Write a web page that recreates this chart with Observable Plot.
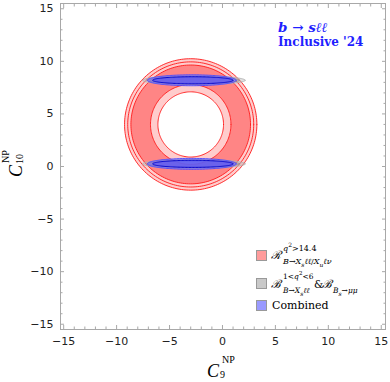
<!DOCTYPE html>
<html>
<head>
<meta charset="utf-8">
<script src="https://cdn.jsdelivr.net/npm/d3@7"></script>
<script src="https://cdn.jsdelivr.net/npm/@observablehq/plot@0.6"></script>
<style>
  body { margin: 0; background: #fff; }
  #wrap { position: relative; width: 390px; height: 382px; overflow: hidden; }
  #wrap svg { position: absolute; left: 0; top: 0; }
  .t { position: absolute; white-space: nowrap; line-height: 1; }
  .serif { font-family: "DejaVu Serif", serif; }
  .lt { font-family: "Liberation Serif", "DejaVu Serif", serif; }
</style>
</head>
<body>
<div id="wrap"></div>
<script>
// ---------- data ----------
const xDomain = [-15.3, 15.4];
const yDomain = [-15.5, 15.5];
const majorTicks = [-15, -10, -5, 0, 5, 10, 15];
const minorTicks = [-14, -13, -12, -11, -9, -8, -7, -6, -4, -3, -2, -1, 1, 2, 3, 4, 6, 7, 8, 9, 11, 12, 13, 14];

// R ratio (q^2 > 14.4): annulus in the (C9, C10) plane
const ringCx = -3.0;
const ringCy = 4.0;
const ringRadii = [6.25, 5.95, 5.65, 3.8, 3.1];
const ringFills = ["#ffcccc", "#ffcccc", "#ff8585", "#ffcccc", "#ffffff"];

// Branching ratio (1<q^2<6) & Bs->mumu: elongated ellipses
const grayCx = [-2.7, -2.75, -2.7, -2.75];
const grayCy = [8.2, 8.2, 0.25, 0.25];
const grayA = [4.85, 4.35, 4.85, 4.35];
const grayB = [0.42, 0.28, 0.42, 0.28];

// Combined fit
const blueCx = [-2.9, -2.8, -2.9, -2.8];
const blueCy = [8.2, 8.2, 0.25, 0.25];
const blueA = [4.2, 3.8, 4.2, 3.8];
const blueB = [0.52, 0.34, 0.52, 0.34];

// ---------- shapes from parameters ----------
function ellipse(cx, cy, a, b, id) {
  const pts = [];
  const n = 180;
  for (let i = 0; i <= n; i++) {
    const t = (2 * Math.PI * i) / n;
    pts.push({x: cx + a * Math.cos(t), y: cy + b * Math.sin(t), id});
  }
  return pts;
}

const ringMarks = ringRadii.map((r, i) =>
  Plot.line(ellipse(ringCx, ringCy, r, r, i), {x: "x", y: "y", fill: ringFills[i], stroke: "#ff1a1a", strokeWidth: 0.9})
);

const grayMarks = grayCx.map((cx, i) =>
  Plot.line(ellipse(cx, grayCy[i], grayA[i], grayB[i], i), {
    x: "x", y: "y",
    fill: "#b4b4b4", fillOpacity: 0.4,
    stroke: i % 2 === 0 ? "#b0b0b0" : "#8a8a8a", strokeWidth: 0.9
  })
);

const blueMarks = blueCx.map((cx, i) =>
  Plot.line(ellipse(cx, blueCy[i], blueA[i], blueB[i], i), {
    x: "x", y: "y",
    fill: i % 2 === 0 ? "#6a6aff" : "#3c3cff", fillOpacity: i % 2 === 0 ? 0.6 : 0.45,
    stroke: i % 2 === 0 ? "#4a4aff" : "#0000cc", strokeWidth: 0.9
  })
);

const axisColor = "#a8a8a8";
const tickMarks = [];
for (const anchor of ["bottom", "top"]) {
  tickMarks.push(Plot.axisX(majorTicks, {anchor, tickSize: -4, tickFormat: () => "", label: null, stroke: axisColor}));
  tickMarks.push(Plot.axisX(minorTicks, {anchor, tickSize: -2.5, tickFormat: () => "", label: null, stroke: axisColor}));
}
for (const anchor of ["left", "right"]) {
  tickMarks.push(Plot.axisY(majorTicks, {anchor, tickSize: -4, tickFormat: () => "", label: null, stroke: axisColor}));
  tickMarks.push(Plot.axisY(minorTicks, {anchor, tickSize: -2.5, tickFormat: () => "", label: null, stroke: axisColor}));
}

const chart = Plot.plot({
  width: 390,
  height: 382,
  marginLeft: 60,
  marginRight: 5,
  marginTop: 3,
  marginBottom: 53,
  style: {fontFamily: "DejaVu Sans", fontSize: "11px", background: "white", color: "#222"},
  x: {domain: xDomain},
  y: {domain: yDomain},
  marks: [
    ...ringMarks,
    ...grayMarks,
    ...blueMarks,
    ...tickMarks,
    Plot.axisX(majorTicks, {anchor: "bottom", tickSize: 0, tickPadding: 8, label: null}),
    Plot.axisY(majorTicks, {anchor: "left", tickSize: 0, tickPadding: 7, label: null}),
    Plot.frame({stroke: axisColor})
  ]
});
const wrap = document.getElementById("wrap");
wrap.appendChild(chart);

// ---------- text overlays ----------
function put(html, left, top, size, cls, extra = "") {
  const d = document.createElement("div");
  d.className = "t " + cls;
  d.style.left = left + "px";
  d.style.top = top + "px";
  d.style.fontSize = size + "px";
  d.style.cssText += extra;
  d.innerHTML = html;
  wrap.appendChild(d);
  return d;
}

// title
put("<b><i>b</i> → <i>sℓℓ</i></b>", 278, 21, 13.5, "serif", "color:#1f1fff;");
put("<b>Inclusive '24</b>", 278, 36, 12, "serif", "color:#1f1fff;");

// x label
put("<i>C</i>", 207, 362, 18, "lt");
put("NP", 222, 355, 10, "lt");
put("9", 220, 370, 10, "lt");

// y label (rotated)
const yl = document.createElement("div");
yl.style.cssText = "position:absolute;left:-3px;top:151px;width:34px;height:22px;transform:rotate(-90deg);transform-origin:50% 50%;";
yl.innerHTML =
  '<div class="t lt" style="left:2px;top:4px;font-size:18px"><i>C</i></div>' +
  '<div class="t lt" style="left:16px;top:-2px;font-size:10px">NP</div>' +
  '<div class="t lt" style="left:15px;top:12px;font-size:10px">10</div>';
wrap.appendChild(yl);

// legend
function swatch(top, color) {
  const d = document.createElement("div");
  d.style.cssText = `position:absolute;left:256px;top:${top}px;width:11px;height:11px;background:${color};border:0.5px solid #999;box-sizing:border-box;`;
  wrap.appendChild(d);
}
swatch(249.5, "#ff9c9c");
swatch(278, "#c9c9c9");
swatch(299.5, "#9a9aff");

put("<i>ℛ</i>", 271, 250, 11.5, "serif");
put("<i>q</i><sup style='font-size:6px'>2</sup>&gt;14.4", 283, 242, 8, "serif");
put("<i>B</i>→<i>X<sub style='font-size:6px'>s</sub>ℓℓ</i>/<i>X<sub style='font-size:6px'>u</sub>ℓν</i>", 283, 258, 8, "serif");

put("<i>ℬ</i>", 271, 278.5, 11.5, "serif");
put("1&lt;<i>q</i><sup style='font-size:5.5px'>2</sup>&lt;6", 283, 271, 7.5, "serif");
put("<i>B</i>→<i>X<sub style='font-size:6px'>s</sub>ℓℓ</i>", 283, 287, 7.5, "serif");
put("&amp;", 314, 279, 10.5, "serif");
put("<i>ℬ</i>", 322, 278.5, 11.5, "serif");
put("<i>B<sub style='font-size:6px'>s</sub></i>→<i>μμ</i>", 333, 287, 7.5, "serif");

put("Combined", 272, 300, 11, "serif");
</script>
</body>
</html>
